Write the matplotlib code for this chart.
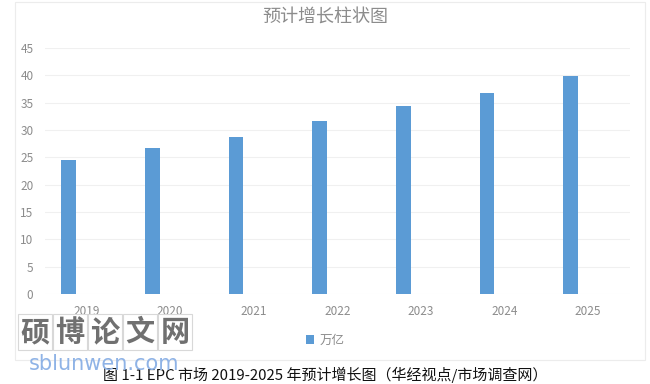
import matplotlib.pyplot as plt
from matplotlib.patches import Rectangle
import numpy as np

plt.rcParams['font.family'] = ['Noto Sans CJK SC', 'DejaVu Sans']

years = ['2019', '2020', '2021', '2022', '2023', '2024', '2025']
values = [24.5, 26.7, 28.7, 31.6, 34.4, 36.8, 39.9]
series_name = '万亿'
title = '预计增长柱状图'
caption = '图 1-1 EPC 市场 2019-2025 年预计增长图（华经视点/市场调查网）'
yticks = [0, 5, 10, 15, 20, 25, 30, 35, 40, 45]

fig = plt.figure(figsize=(6.5, 3.84), dpi=100)

# faint chart frame, behind everything
frame = Rectangle((15 / 650, 1 - 360 / 384), 630 / 650, 358 / 384,
                  transform=fig.transFigure, facecolor='none',
                  edgecolor='#ececec', linewidth=0.8, zorder=-10)
fig.patches.append(frame)

ax = fig.add_axes([44.5 / 650, 1 - 294 / 384, (630 - 44.5) / 650, 246 / 384])
ax.set_zorder(2)
ax.set_facecolor('none')
x = np.arange(len(years))
ax.bar(x - 0.21, values, width=0.175, color='#5b9bd5', label=series_name, zorder=3)
ax.set_xlim(-0.5, len(years) - 0.5)
ax.set_ylim(0, 45)
ax.set_yticks(yticks)
ax.set_xticks(x)
ax.set_xticklabels(years)
ax.tick_params(axis='both', length=0, colors='#8c8c8c', labelsize=8.5)
ax.tick_params(axis='x', pad=8)
ax.tick_params(axis='y', pad=8)
ax.grid(axis='y', color='#f0f0f0', linewidth=0.8, zorder=0)
for s in ax.spines.values():
    s.set_visible(False)

fig.text(0.5, 1 - 17 / 384, title, ha='center', va='center', fontsize=13,
         color='#8c8c8c')

leg = fig.legend(loc='center', bbox_to_anchor=(0.5, 1 - 340 / 384), frameon=False,
                 fontsize=9, handlelength=0.7, handleheight=0.7, handletextpad=0.4)
for t in leg.get_texts():
    t.set_color('#8c8c8c')

fig.text(0.5, 1 - 375 / 384, caption, ha='center', va='center', fontsize=10.8,
         color='#111111')

# watermark
for i, ch in enumerate('硕博论文网'):
    fig.text((35 + i * 35) / 650, 1 - 332 / 384, ch, ha='center', va='center',
             fontsize=21, fontweight='bold', color='#707070',
             bbox=dict(boxstyle='square,pad=0.1', facecolor='none',
                       edgecolor='#d8d8d8', linewidth=0.8))
fig.text(104 / 650, 1 - 364 / 384, 'sblunwen.com', ha='center', va='center',
         fontsize=15, color='#8fb3e6', family='DejaVu Sans')

fig.savefig('out.png', dpi=100)
